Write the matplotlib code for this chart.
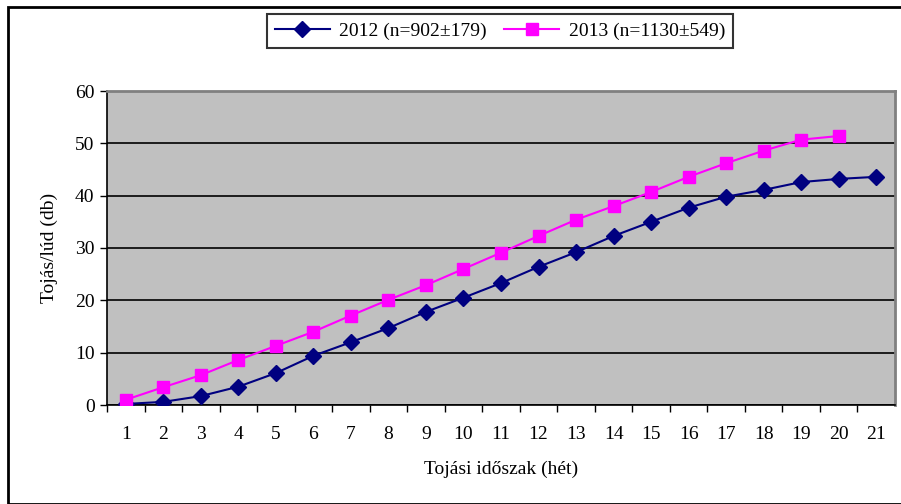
import matplotlib.pyplot as plt
from matplotlib.patches import Rectangle

# adatok
weeks = list(range(1, 22))
eggs_2012 = [0.2, 0.6, 1.7, 3.5, 6.1, 9.4, 12.0, 14.7, 17.8, 20.5, 23.3,
             26.4, 29.2, 32.3, 35.0, 37.7, 39.8, 41.1, 42.6, 43.2, 43.6]
eggs_2013 = [1.0, 3.4, 5.7, 8.6, 11.3, 14.0, 17.1, 20.1, 22.9, 26.0,
             29.1, 32.3, 35.4, 38.0, 40.7, 43.6, 46.2, 48.6, 50.7, 51.4]
label_2012 = '2012 (n=902±179)'
label_2013 = '2013 (n=1130±549)'

plt.rcParams['font.family'] = ['Liberation Serif', 'DejaVu Serif']

fig = plt.figure(figsize=(9.01, 5.04), dpi=100)
ax = fig.add_axes([107 / 901, 99 / 504, 788 / 901, 314 / 504])
ax.set_facecolor('#c0c0c0')

# keret az egész ábra körül
fig.patches.append(Rectangle((8 / 901, 0), 1, 497 / 504, transform=fig.transFigure,
                             fill=False, edgecolor='black', linewidth=2, zorder=0))

ax.plot(weeks, eggs_2012, color='#000080', marker='D', markersize=8,
        linewidth=1.5, label=label_2012, zorder=3)
ax.plot(weeks[:len(eggs_2013)], eggs_2013, color='#ff00ff', marker='s', markersize=8,
        linewidth=1.5, label=label_2013, zorder=3)

ax.set_xlim(0.5, 21.5)
ax.set_ylim(0, 60)
ax.set_yticks(range(0, 61, 10))
ax.set_xticks(weeks)
ax.set_xticks([w + 0.5 for w in range(0, 21)], minor=True)
ax.tick_params(axis='x', which='major', length=0, pad=15, labelsize=14)
ax.tick_params(axis='x', which='minor', length=5, direction='out', width=1)
ax.tick_params(axis='y', length=5, direction='out', width=1, labelsize=14, pad=4)

ax.yaxis.grid(True, color='black', linewidth=1.2)
ax.set_axisbelow(True)

for s in ['top', 'right']:
    ax.spines[s].set_color('#808080')
    ax.spines[s].set_linewidth(2)
for s in ['left', 'bottom']:
    ax.spines[s].set_color('black')
    ax.spines[s].set_linewidth(1.2)

ax.set_xlabel('Tojási időszak (hét)', fontsize=14, labelpad=13)
ax.set_ylabel('Tojás/lúd (db)', fontsize=14, labelpad=12)

leg = fig.legend(loc='center', bbox_to_anchor=(500 / 901, 1 - 31 / 504), ncol=2,
                 fontsize=14, frameon=True, fancybox=False, edgecolor='black',
                 handlelength=2.8, columnspacing=0.9, handletextpad=0.5,
                 borderpad=0.4)
leg.get_frame().set_linewidth(1.5)

plt.savefig('out.png', dpi=100)
